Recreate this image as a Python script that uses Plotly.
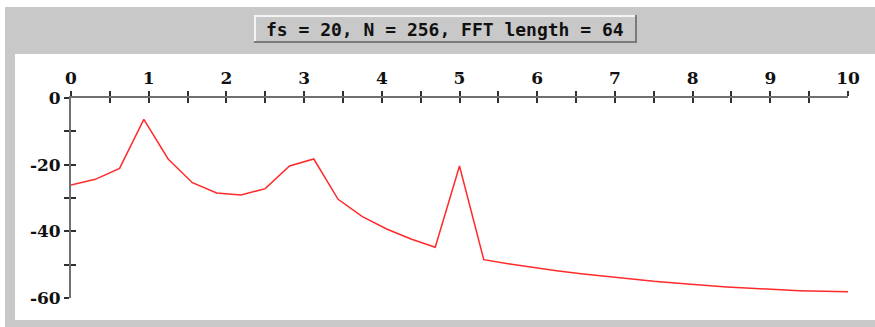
import plotly.graph_objects as go

# Spectrum of the test signal: fs = 20, N = 256 samples, 64-point FFT
FS = 20
NFFT = 64
freq = [k * FS / NFFT for k in range(NFFT // 2 + 1)]
mag_db = [
    -26.1, -24.4, -21.1, -6.4, -18.3, -25.4, -28.5, -29.1, -27.2, -20.4,
    -18.3, -30.4, -35.6, -39.3, -42.3, -44.8, -20.4, -48.5, -49.7, -50.8,
    -51.8, -52.7, -53.5, -54.3, -55.0, -55.6, -56.2, -56.7, -57.1, -57.5,
    -57.8, -58.0, -58.1,
]

x_tickvals = [i * 0.5 for i in range(21)]
x_ticktext = [str(int(v)) if v == int(v) else "" for v in x_tickvals]
y_tickvals = [0, -10, -20, -30, -40, -50, -60]
y_ticktext = ["0", "", "-20", "", "-40", "", "-60"]
title_text = "fs = 20, N = 256, FFT length = 64"

W, H = 875, 327
ML, MR, MT, MB = 71, 27, 98, 29
PW, PH = W - ML - MR, H - MT - MB


def px(x):
    return (x - ML) / PW


def py(y):
    return (H - MB - y) / PH


GRAY = "#c8c8c8"
AXIS = "#707070"
TICK = "#303030"
TICKFONT = dict(family="DejaVu Serif", size=17, color="#111111", weight="bold")

fig = go.Figure()
fig.add_trace(go.Scatter(
    x=freq, y=mag_db, mode="lines",
    line=dict(color="#ff2a2a", width=1.5),
    hoverinfo="skip", showlegend=False,
))
# companion trace so the cross-tick axes get drawn
fig.add_trace(go.Scatter(
    x=freq, y=mag_db, mode="lines", xaxis="x2", yaxis="y2",
    line=dict(width=0), opacity=0, hoverinfo="skip", showlegend=False,
))

axis_common = dict(showgrid=False, zeroline=False, fixedrange=True)

fig.update_layout(
    width=W, height=H,
    margin=dict(l=ML, r=MR, t=MT, b=MB),
    paper_bgcolor="white",
    plot_bgcolor="white",
    xaxis=dict(
        range=[0, 10], side="top", anchor="y",
        tickvals=x_tickvals, ticktext=x_ticktext,
        ticks="outside", ticklen=5, tickwidth=2, tickcolor=TICK,
        showline=True, linecolor=AXIS, linewidth=2,
        tickfont=TICKFONT, **axis_common,
    ),
    xaxis2=dict(
        range=[0, 10], side="top", anchor="y", overlaying="x",
        tickvals=x_tickvals, showticklabels=False,
        ticks="inside", ticklen=5, tickwidth=2, tickcolor=TICK,
        showline=False, **axis_common,
    ),
    yaxis=dict(
        range=[-60, 0], side="left", anchor="x",
        tickvals=y_tickvals, ticktext=y_ticktext,
        ticks="outside", ticklen=5, tickwidth=2, tickcolor=TICK,
        showline=True, linecolor=AXIS, linewidth=2,
        tickfont=TICKFONT, **axis_common,
    ),
    yaxis2=dict(
        range=[-60, 0], side="left", anchor="x", overlaying="y",
        tickvals=y_tickvals, showticklabels=False,
        ticks="inside", ticklen=5, tickwidth=2, tickcolor=TICK,
        showline=False, **axis_common,
    ),
    shapes=[
        # outer gray frame
        dict(type="rect", xref="paper", yref="paper", layer="below",
             x0=px(5), x1=px(W), y0=py(7), y1=py(H),
             fillcolor=GRAY, line=dict(width=0)),
        # white chart panel
        dict(type="rect", xref="paper", yref="paper", layer="below",
             x0=px(15), x1=px(W), y0=py(54), y1=py(320),
             fillcolor="white", line=dict(width=0)),
        # title box: shadow, highlight, face
        dict(type="rect", xref="paper", yref="paper", layer="below",
             x0=px(254), x1=px(637), y0=py(15), y1=py(43),
             fillcolor="#7a7a7a", line=dict(width=0)),
        dict(type="rect", xref="paper", yref="paper", layer="below",
             x0=px(254), x1=px(635), y0=py(15), y1=py(41),
             fillcolor="#f4f4f4", line=dict(width=0)),
        dict(type="rect", xref="paper", yref="paper", layer="below",
             x0=px(256), x1=px(635), y0=py(17), y1=py(41),
             fillcolor=GRAY, line=dict(width=0)),
    ],
    annotations=[
        dict(text=title_text, xref="paper", yref="paper",
             x=px(445), y=py(29), xanchor="center", yanchor="middle",
             showarrow=False,
             font=dict(family="DejaVu Sans Mono", size=18, color="#111111",
                       weight="bold")),
    ],
)

fig.write_html("out.html")
